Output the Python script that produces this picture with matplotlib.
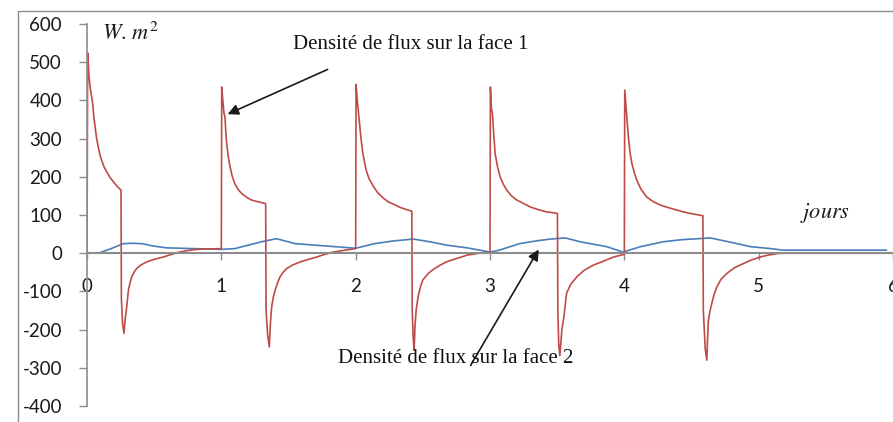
import matplotlib.pyplot as plt
from matplotlib.patches import Rectangle

# flux density on face 1 (red), days / W.m2
t_face1 = [0.0, 0.005, 0.015, 0.025, 0.034, 0.042, 0.05, 0.06, 0.072, 0.084, 0.096, 0.109,
           0.127, 0.147, 0.17, 0.196, 0.225, 0.253,
           0.256, 0.265, 0.275, 0.285, 0.296, 0.308, 0.32, 0.333, 0.35, 0.37, 0.40,
           0.444, 0.5, 0.568, 0.63, 0.69, 0.75, 0.817, 0.9, 1.0,
           1.003, 1.012, 1.02, 1.027, 1.033, 1.04, 1.052, 1.065, 1.08, 1.10, 1.125,
           1.152, 1.19, 1.226, 1.28, 1.33,
           1.333, 1.345, 1.357, 1.366, 1.375, 1.387, 1.40, 1.418, 1.437, 1.46, 1.487,
           1.53, 1.586, 1.65, 1.71, 1.77, 1.834, 1.92, 2.0,
           2.003, 2.012, 2.02, 2.03, 2.04, 2.052, 2.065, 2.08, 2.10, 2.13, 2.16, 2.2,
           2.24, 2.29, 2.33, 2.38, 2.418,
           2.421, 2.428, 2.435, 2.442, 2.45, 2.46, 2.47, 2.485, 2.50, 2.54, 2.58,
           2.63, 2.68, 2.75, 2.83, 2.92, 3.0,
           3.003, 3.01, 3.018, 3.028, 3.038, 3.055, 3.075, 3.1, 3.125, 3.16, 3.2,
           3.25, 3.3, 3.36, 3.423, 3.47, 3.502,
           3.505, 3.512, 3.52, 3.535, 3.55, 3.57, 3.6, 3.646, 3.7, 3.77, 3.85, 3.92, 4.0,
           4.003, 4.01, 4.017, 4.023, 4.03, 4.042, 4.056, 4.075, 4.093, 4.125, 4.167,
           4.215, 4.267, 4.33, 4.39, 4.44, 4.49, 4.54, 4.585,
           4.588, 4.602, 4.614, 4.62, 4.626, 4.638, 4.651, 4.668, 4.689, 4.72, 4.763,
           4.82, 4.887, 4.95, 5.011, 5.07, 5.136, 5.2, 5.3, 6.0]
v_face1 = [0, 524, 461, 430, 410, 393, 360, 331, 300, 278, 258, 243,
           226, 213, 199, 187, 175, 165,
           -120, -185, -210, -170, -140, -97, -78, -62, -50, -40, -31,
           -23, -16, -10, -3, 3, 7, 10, 11, 12,
           435, 395, 366, 357, 320, 287, 252, 226, 203, 182, 167,
           156, 146, 139, 134, 130,
           -150, -215, -245, -180, -140, -115, -97, -78, -62, -50, -40,
           -31, -23, -16, -10, -3, 3, 8, 12,
           442, 400, 370, 335, 300, 265, 240, 215, 195, 176, 160, 146,
           135, 127, 120, 114, 110,
           -150, -220, -254, -190, -150, -125, -105, -85, -70, -53, -42,
           -31, -22, -14, -5, 0, 3,
           435, 380, 366, 310, 261, 228, 200, 180, 165, 150, 139,
           130, 121, 114, 108, 106, 104,
           -150, -240, -268, -200, -167, -105, -82, -62, -45, -31, -20, -10, -3,
           427, 395, 366, 335, 305, 265, 235, 210, 191, 167, 147,
           135, 126, 119, 113, 108, 104, 101, 98,
           -150, -250, -280, -220, -175, -150, -132, -108, -88, -68, -53,
           -38, -27, -17, -10, -5, -1, 0, 0, 0]

# flux density on face 2 (blue)
t_face2 = [0.0, 0.084, 0.18, 0.27, 0.33, 0.41, 0.49, 0.59, 0.79, 1.0,
           1.1, 1.2, 1.3, 1.41, 1.55, 1.70, 1.85, 2.0, 2.14, 2.28, 2.43,
           2.55, 2.68, 2.83, 3.0, 3.07, 3.22, 3.34, 3.45, 3.56, 3.67, 3.87, 3.99,
           4.12, 4.29, 4.415, 4.64, 4.84, 4.94, 5.09, 5.18, 5.4, 5.95]
v_face2 = [0, 0, 12, 25, 26, 25, 19, 14, 12, 10,
           12, 21, 30, 38, 25, 21, 17, 13, 25, 32, 37,
           30, 21, 14, 3, 8, 25, 32, 37, 40, 30, 17, 3,
           17, 30, 35, 40, 25, 17, 12, 8, 8, 8]

x_ticks = [0, 1, 2, 3, 4, 5, 6]
y_ticks = [-400, -300, -200, -100, 0, 100, 200, 300, 400, 500, 600]

plt.rcParams['mathtext.fontset'] = 'stix'
plt.rcParams['axes.unicode_minus'] = False

W, H = 893, 422
fig = plt.figure(figsize=(W / 100, H / 100), dpi=100)
ax = fig.add_axes([87 / W, 16 / H, (W - 87) / W, (406 - 24) / H])

ax.plot(t_face2, v_face2, color='#4A7EBB', lw=1.2)
ax.plot(t_face1, v_face1, color='#BE4B48', lw=1.2)

ax.set_xlim(0, 6)
ax.set_ylim(-400, 600)
ax.set_xticks(x_ticks)
ax.set_yticks(y_ticks)

axis_grey = '#8C8C8C'
for side in ['top', 'right']:
    ax.spines[side].set_visible(False)
ax.spines['bottom'].set_position(('data', 0))
ax.spines['bottom'].set_color(axis_grey)
ax.spines['bottom'].set_linewidth(1.5)
ax.spines['left'].set_color(axis_grey)
ax.spines['left'].set_linewidth(1.2)
ax.tick_params(axis='x', direction='out', length=5, width=1, color=axis_grey,
               pad=13, labelsize=13.5, labelcolor='#1a1a1a')
ax.tick_params(axis='y', direction='out', length=6, width=1, color=axis_grey,
               pad=12, labelsize=13.5, labelcolor='#1a1a1a')
for lab in ax.get_xticklabels() + ax.get_yticklabels():
    lab.set_family('Lato')

# units and axis name
ax.text(0.11, 576, r'$W.\,m^2$', fontsize=16, va='center', ha='left', color='#1a1a1a')
ax.text(5.31, 105, r'$jours$', fontsize=16, va='center', ha='left', color='#1a1a1a')

arrow_kw = dict(arrowstyle='-|>', color='#1a1a1a', lw=1.2, mutation_scale=16)
ax.annotate('', xy=(1.028, 361), xytext=(1.81, 484), arrowprops=arrow_kw)
ax.annotate('', xy=(3.373, 16), xytext=(2.845, -300), arrowprops=arrow_kw)
ax.text(1.53, 547, 'Densité de flux sur la face 1', family='Liberation Serif',
        fontsize=15, ha='left', va='center', color='#111111')
ax.text(1.87, -275, 'Densité de flux sur la face 2', family='Liberation Serif',
        fontsize=15, ha='left', va='center', color='#111111')

# outer chart border
fig.patches.append(Rectangle((18 / W, -0.1), 1.2, 1 - 11 / H + 0.1,
                             transform=fig.transFigure, fill=False,
                             edgecolor='#8C8C8C', lw=1.0))

fig.savefig('out.png', dpi=100)
